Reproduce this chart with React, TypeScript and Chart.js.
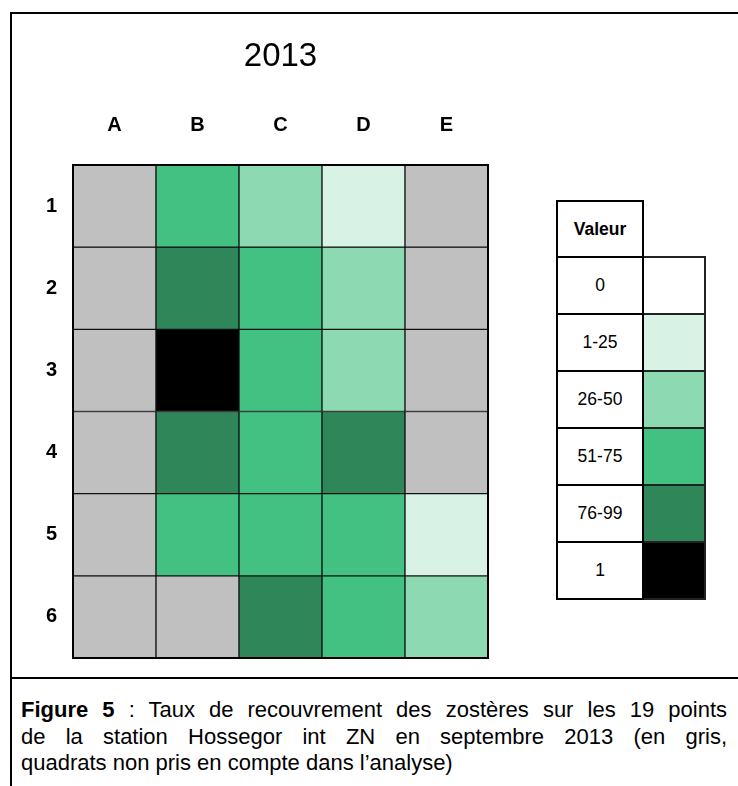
import React, { useEffect, useRef } from 'react';
import { Chart, registerables } from 'chart.js';

Chart.register(...registerables);

const FONT = '"Liberation Sans", Arial, Helvetica, sans-serif';

const chartTitle = '2013';
const columns = ['A', 'B', 'C', 'D', 'E'];
const rows = ['1', '2', '3', '4', '5', '6'];
const legendHeader = 'Valeur';
const legendLabels = ['0', '1-25', '26-50', '51-75', '76-99', '1'];
const legendColors = ['#FFFFFF', '#D8F2E5', '#8CD9B2', '#42C183', '#2E8659', '#000000'];
const excludedColor = '#C0C0C0';

// level = index into legendLabels / legendColors ; -1 = quadrat not analysed (grey)
const row1 = [-1, 3, 2, 1, -1];
const row2 = [-1, 4, 3, 2, -1];
const row3 = [-1, 5, 3, 2, -1];
const row4 = [-1, 4, 3, 4, -1];
const row5 = [-1, 3, 3, 3, 1];
const row6 = [-1, -1, 4, 3, 2];
const cellLevels = [row1, row2, row3, row4, row5, row6];

const captionBold = 'Figure 5';
const captionLines = [
  ' : Taux de recouvrement des zostères sur les 19 points',
  'de la station Hossegor int ZN en septembre 2013 (en gris,',
  'quadrats non pris en compte dans l’analyse)',
];

const outlinePlugin = {
  id: 'outline',
  afterDatasetsDraw(chart: any) {
    const { ctx, chartArea: a } = chart;
    ctx.save();
    ctx.strokeStyle = '#000';
    ctx.lineWidth = 2;
    ctx.strokeRect(a.left, a.top, a.right - a.left, a.bottom - a.top);
    ctx.restore();
  },
};

function Heatmap() {
  const ref = useRef<HTMLCanvasElement | null>(null);
  useEffect(() => {
    if (!ref.current) return;
    const datasets = cellLevels.map((levels, r) => ({
      label: rows[r],
      data: columns.map(() => 1),
      backgroundColor: levels.map((l) => (l < 0 ? excludedColor : legendColors[l])),
      borderColor: '#111',
      borderWidth: 1,
      borderSkipped: false as any,
      categoryPercentage: 1,
      barPercentage: 1,
      stack: 'grid',
    }));
    const tickFont = { family: FONT, size: 20, weight: 'bold' as any };
    const chart = new Chart(ref.current, {
      type: 'bar',
      data: { labels: columns, datasets },
      options: {
        animation: false,
        responsive: false,
        maintainAspectRatio: false,
        layout: { padding: { left: 0, right: 54, top: 0, bottom: 17 } },
        plugins: {
          legend: { display: false },
          tooltip: { enabled: false },
          title: {
            display: true,
            fullSize: false,
            text: chartTitle,
            color: '#000',
            font: { family: FONT, size: 33, weight: 'normal' as any, lineHeight: 1.2 },
            padding: { top: 22, bottom: 0 },
          },
        },
        scales: {
          x: {
            type: 'category',
            position: 'top',
            stacked: true,
            offset: true,
            grid: { display: false, drawTicks: false },
            border: { display: false },
            ticks: { color: '#000', font: tickFont, padding: 28, maxRotation: 0, autoSkip: false },
            afterFit: (s: any) => {
              s.height = 88.4;
              s.paddingLeft = 0;
              s.paddingRight = 0;
            },
          },
          y: {
            type: 'linear',
            stacked: true,
            reverse: true,
            min: 0,
            max: 6,
            grid: { display: false, drawTicks: false },
            border: { display: false },
            afterBuildTicks: (axis: any) => {
              axis.ticks = rows.map((_, i) => ({ value: i + 0.5 }));
            },
            ticks: {
              color: '#000',
              font: tickFont,
              padding: 16,
              autoSkip: false,
              callback: (v: any) => rows[Math.floor(Number(v))] ?? '',
            },
            afterFit: (s: any) => {
              s.width = 59;
              s.paddingTop = 0;
              s.paddingBottom = 0;
            },
          },
        },
      },
      plugins: [outlinePlugin],
    });
    return () => chart.destroy();
  }, []);
  return (
    <canvas
      ref={ref}
      width={528}
      height={660}
      style={{ position: 'absolute', left: 14, top: 15, width: 528, height: 660 }}
    />
  );
}

function Legend() {
  const cell: React.CSSProperties = {
    border: '2px solid #000',
    height: 55,
    padding: 0,
    textAlign: 'center',
    verticalAlign: 'middle',
  };
  return (
    <table
      style={{
        position: 'absolute',
        left: 556,
        top: 200,
        borderCollapse: 'collapse',
        tableLayout: 'fixed',
        fontFamily: FONT,
        fontSize: 17.5,
        color: '#000',
      }}
    >
      <colgroup>
        <col style={{ width: 86 }} />
        <col style={{ width: 62 }} />
      </colgroup>
      <tbody>
        <tr>
          <td style={{ ...cell, height: 54, fontWeight: 'bold' }}>{legendHeader}</td>
          <td style={{ border: 'none', padding: 0 }} />
        </tr>
        {legendLabels.map((lab, i) => (
          <tr key={i}>
            <td style={cell}>{lab}</td>
            <td style={{ ...cell, background: legendColors[i], border: '2px solid #222' }} />
          </tr>
        ))}
      </tbody>
    </table>
  );
}

function Caption() {
  const line: React.CSSProperties = { textAlign: 'justify', textAlignLast: 'justify' };
  return (
    <div
      style={{
        position: 'absolute',
        left: 21,
        top: 697,
        width: 706,
        fontFamily: FONT,
        fontSize: 22,
        lineHeight: '26.5px',
        color: '#000',
      }}
    >
      <div style={line}>
        <b>{captionBold}</b>
        {captionLines[0]}
      </div>
      <div style={line}>{captionLines[1]}</div>
      <div>{captionLines[2]}</div>
    </div>
  );
}

export default function App() {
  return (
    <div style={{ position: 'absolute', left: 0, top: 0, width: 738, height: 786, background: '#fff', overflow: 'hidden' }}>
      <div style={{ position: 'absolute', left: 10, top: 12, width: 728, height: 2, background: '#000' }} />
      <div style={{ position: 'absolute', left: 10, top: 12, width: 2, height: 774, background: '#000' }} />
      <div style={{ position: 'absolute', left: 10, top: 677, width: 728, height: 2, background: '#000' }} />
      <Heatmap />
      <Legend />
      <Caption />
    </div>
  );
}
